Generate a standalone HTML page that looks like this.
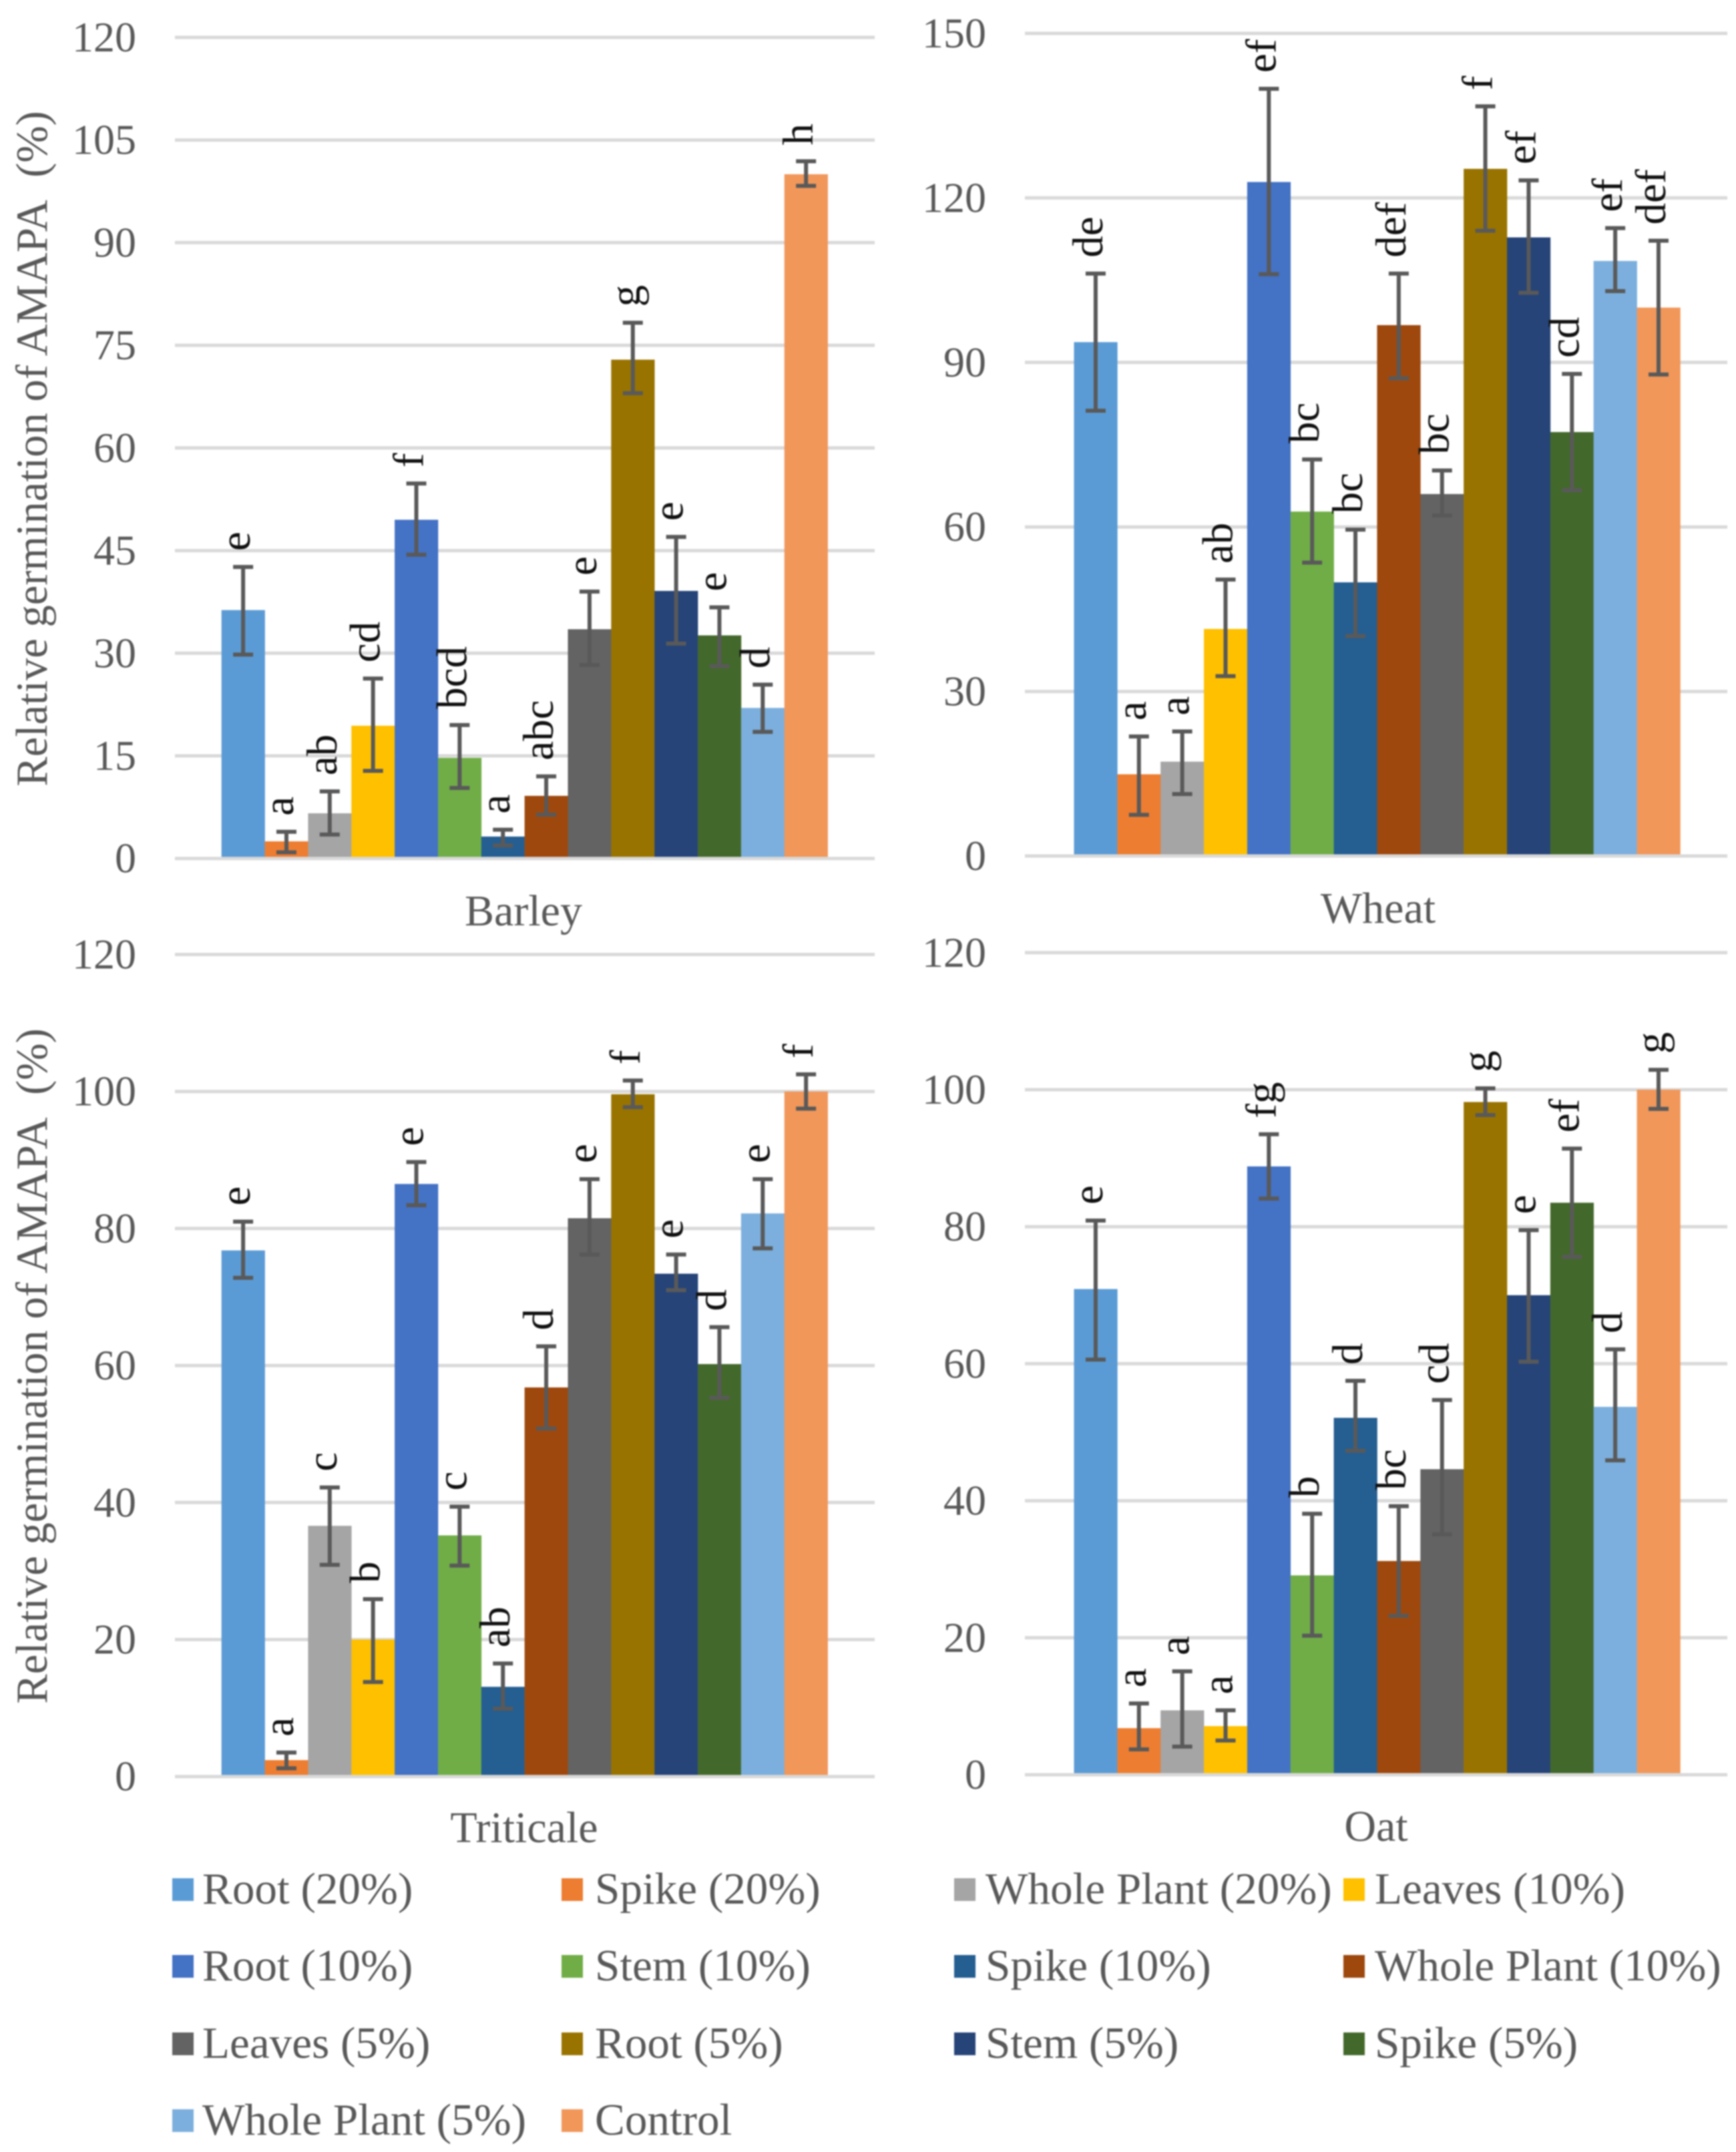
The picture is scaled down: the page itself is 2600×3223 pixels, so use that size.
<!DOCTYPE html>
<html lang="en">
<head>
<meta charset="utf-8">
<title>Relative germination of AMAPA</title>
<style>
html,body{margin:0;padding:0;background:#fff;}
#figure{display:block;width:2600px;height:3223px;background:#fff;filter:blur(1px);font-family:"Liberation Serif",serif;}
</style>
</head>
<body>
<svg id="figure" xmlns="http://www.w3.org/2000/svg" width="2600" height="3223" viewBox="0 0 2600 3223"></svg>
<script>
const seriesNames = ['Root (20%)','Spike (20%)','Whole Plant (20%)','Leaves (10%)','Root (10%)','Stem (10%)','Spike (10%)','Whole Plant (10%)','Leaves (5%)','Root (5%)','Stem (5%)','Spike (5%)','Whole Plant (5%)','Control'];
const seriesColors = ['#5B9BD5','#ED7D31','#A5A5A5','#FFC000','#4472C4','#70AD47','#255E91','#9E480E','#636363','#997300','#264478','#43682B','#7CAFDD','#F1975A'];

const barleyTicks = [0,15,30,45,60,75,90,105,120];
const barleyValues = [36.3,2.5,6.6,19.4,49.5,14.7,3.2,9.15,33.5,72.9,39.1,32.6,22,100];
const barleyErrHigh = [42.6,3.9,9.8,26.3,54.8,19.5,4.2,12,39,78.3,47,36.7,25.4,101.9];
const barleyErrLow = [29.8,0.9,3.5,12.8,44.4,10.3,1.9,6.4,28.3,68,31.4,28.1,18.5,98.3];
const barleyLetters = ['e','a','ab','cd','f','bcd','a','abc','e','g','e','e','d','h'];

const wheatTicks = [0,30,60,90,120,150];
const wheatValues = [93.7,14.9,17.2,41.4,122.9,62.8,49.9,96.8,66,125.3,112.8,77.3,108.5,100];
const wheatErrHigh = [106.2,21.8,22.7,50.4,139.9,72.3,59.5,106.2,70.3,136.7,123.2,87.9,114.5,112.2];
const wheatErrLow = [81.2,7.5,11.3,32.8,106.1,53.5,40.1,87.1,62.1,114,102.7,66.7,103,87.8];
const wheatLetters = ['de','a','a','ab','ef','bc','bc','def','bc','f','ef','cd','ef','def'];

const triticaleTicks = [0,20,40,60,80,100,120];
const triticaleValues = [76.8,2.4,36.6,20,86.5,35.2,13.1,56.8,81.5,99.6,73.4,60.2,82.2,100];
const triticaleErrHigh = [81,3.5,42.2,25.9,89.7,39.4,16.5,62.8,87.2,101.6,76.2,65.6,87.2,102.5];
const triticaleErrLow = [72.8,1.2,30.9,13.8,83.4,30.8,9.9,50.8,76.2,97.7,71,55.3,77.1,97.5];
const triticaleLetters = ['e','a','c','b','e','c','ab','d','e','f','e','d','e','f'];

const oatTicks = [0,20,40,60,80,100,120];
const oatValues = [70.9,6.8,9.4,7.1,88.8,29.1,52.1,31.2,44.6,98.2,70,83.5,53.7,100];
const oatErrHigh = [80.9,10.4,15.1,9.4,93.5,38.1,57.5,39.2,54.7,100.2,79.5,91.4,62.1,102.9];
const oatErrLow = [60.6,3.7,4.1,5,84.1,20.3,47.3,23.2,35.1,96.3,60.3,75.6,45.9,97.2];
const oatLetters = ['e','a','a','a','fg','b','d','bc','cd','g','e','ef','d','g'];

const svgNS = 'http://www.w3.org/2000/svg';
const figure = document.getElementById('figure');

function make(tag, attrs, parent, text) {
  const el = document.createElementNS(svgNS, tag);
  for (const k in attrs) { el.setAttribute(k, attrs[k]); }
  if (text !== undefined) { el.textContent = text; }
  parent.appendChild(el);
  return el;
}

function drawPanel(p) {
  const group = make('g', {}, figure);
  
  

  const tickMax = Math.max.apply(null, p.ticks);
  const yScale = function (v) { return p.y0 - v * (p.y0 - p.yTop) / tickMax; };
  const barWidth = 64.85;
  const xScale = function (i) { return p.firstBar + i * barWidth; };

  // gridlines and tick labels
  p.ticks.forEach(function (t) {
    if (t !== 0) {
      const grid = make('line', {x1: p.left, x2: p.right, y1: yScale(t), y2: yScale(t), stroke: '#D9D9D9', 'stroke-width': 5}, group);
      
      
    }
    const label = make('text', {x: p.tickRight, y: yScale(t) + 21, 'text-anchor': 'end', 'font-size': 64, fill: '#595959'}, group, String(t));
    
    
  });

  // bars
  p.values.forEach(function (v, i) {
    const bar = make('rect', {x: xScale(i), y: yScale(v), width: barWidth + 0.3, height: p.y0 - yScale(v), fill: seriesColors[i]}, group);
    
    
  });

  // baseline
  const axis = make('line', {x1: p.left, x2: p.right, y1: p.y0, y2: p.y0, stroke: '#D9D9D9', 'stroke-width': 5}, group);
  
  

  // error bars and significance letters
  p.values.forEach(function (v, i) {
    const cx = xScale(i) + barWidth / 2;
    const hi = yScale(p.errHigh[i]);
    const lo = yScale(p.errLow[i]);
    const d = 'M' + cx + ' ' + hi + 'V' + lo + 'M' + (cx - 15) + ' ' + hi + 'H' + (cx + 15) + 'M' + (cx - 15) + ' ' + lo + 'H' + (cx + 15);
    const err = make('path', {d: d, stroke: '#595959', 'stroke-width': 6, fill: 'none'}, group);
    
    

    const lx = cx + 10;
    const ly = hi - 24;
    const letter = make('text', {x: lx, y: ly, transform: 'rotate(-90 ' + lx + ' ' + ly + ')', 'font-size': 65, fill: '#111111'}, group, p.letters[i]);
    
    
  });

  // category label
  const cat = make('text', {x: p.catX, y: p.catY, 'text-anchor': 'middle', 'font-size': 66, fill: '#595959'}, group, p.category);
  
  

  // y axis title
  if (p.titleY) {
    const title = make('text', {x: 70, y: p.titleY, transform: 'rotate(-90 70 ' + p.titleY + ')', 'text-anchor': 'middle', 'font-size': 66.5, fill: '#595959'}, group, 'Relative germination of AMAPA\u00a0 (%)');
    
    
  }
}

drawPanel({key: 'barley', category: 'Barley', ticks: barleyTicks, values: barleyValues, errHigh: barleyErrHigh, errLow: barleyErrLow, letters: barleyLetters,
  left: 262, right: 1310, y0: 1285.7, yTop: 56, firstBar: 331.7, tickRight: 204, catX: 784, catY: 1386, titleY: 672});
drawPanel({key: 'wheat', category: 'Wheat', ticks: wheatTicks, values: wheatValues, errHigh: wheatErrHigh, errLow: wheatErrLow, letters: wheatLetters,
  left: 1535, right: 2587, y0: 1282, yTop: 50, firstBar: 1608.5, tickRight: 1477, catX: 2064, catY: 1382});
drawPanel({key: 'triticale', category: 'Triticale', ticks: triticaleTicks, values: triticaleValues, errHigh: triticaleErrHigh, errLow: triticaleErrLow, letters: triticaleLetters,
  left: 262, right: 1310, y0: 2660.7, yTop: 1429.5, firstBar: 331.7, tickRight: 204, catX: 785, catY: 2759, titleY: 2046});
drawPanel({key: 'oat', category: 'Oat', ticks: oatTicks, values: oatValues, errHigh: oatErrHigh, errLow: oatErrLow, letters: oatLetters,
  left: 1535, right: 2587, y0: 2658, yTop: 1426.8, firstBar: 1608.5, tickRight: 1477, catX: 2061, catY: 2757});

// legend
function drawLegend() {
  const legend = make('g', {}, figure);
  
  
  const columnStart = [258, 841, 1429, 2012];
  const columnText = [303, 891, 1476, 2059];
  const rowCenter = [2830, 2945, 3061, 3176];
  seriesNames.forEach(function (name, i) {
    const col = i % 4;
    const row = Math.floor(i / 4);
    const entry = make('g', {}, legend);
    
    
    const swatch = make('rect', {x: columnStart[col], y: rowCenter[row] - 17, width: 32, height: 34, fill: seriesColors[i]}, entry);
    
    
    const label = make('text', {x: columnText[col], y: rowCenter[row] + 21, 'font-size': 67.2, fill: '#595959'}, entry, name);
    
    
  });
}
drawLegend();
</script>
</body>
</html>
